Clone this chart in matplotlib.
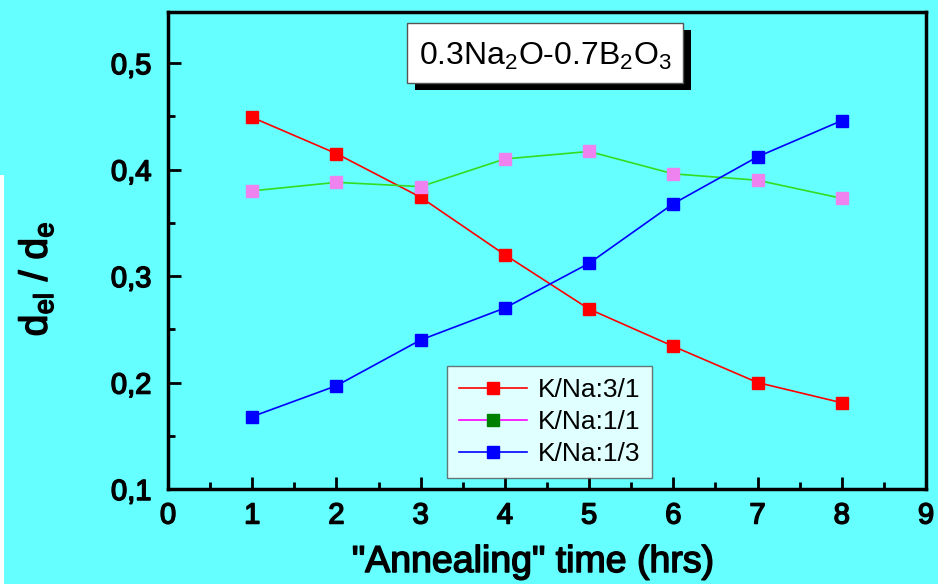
import numpy as np
import matplotlib.pyplot as plt
import matplotlib.patheffects as pe
from matplotlib.lines import Line2D
from matplotlib.patches import Rectangle
from matplotlib.ticker import FuncFormatter, MultipleLocator

plt.rcParams['font.family'] = ['Liberation Sans', 'DejaVu Sans']

# data
hours = [1, 2, 3, 4, 5, 6, 7, 8]
kna_31 = [0.449, 0.415, 0.374, 0.320, 0.269, 0.234, 0.200, 0.181]
kna_11 = [0.380, 0.388, 0.384, 0.410, 0.417, 0.396, 0.390, 0.373]
kna_13 = [0.168, 0.197, 0.240, 0.270, 0.312, 0.368, 0.412, 0.446]
labels = ["K/Na:3/1", "K/Na:1/1", "K/Na:1/3"]

bg = "#66ffff"
heavy = [pe.withStroke(linewidth=1.1, foreground="black")]

fig = plt.figure(figsize=(9.38, 5.84), dpi=100, facecolor=bg)
ax = fig.add_axes([168 / 938, 1 - 489 / 584, (926 - 168) / 938, (489 - 12) / 584])
ax.set_facecolor(bg)

# thin white strip on the left edge
fig.patches.append(Rectangle((0, 0), 4 / 938, 1 - 175 / 584, transform=fig.transFigure,
                             facecolor="white", edgecolor="none", zorder=0))

ms = 8.5
ax.plot(hours, kna_31, "-", color="red", lw=1.2, marker="s", ms=ms,
        mfc="red", mec="red")
ax.plot(hours, kna_11, "-", color="#33dd22", lw=1.2, marker="s", ms=ms,
        mfc="#ee82ee", mec="#ee82ee")
ax.plot(hours, kna_13, "-", color="blue", lw=1.2, marker="s", ms=ms,
        mfc="blue", mec="blue")

ax.set_xlim(0, 9)
ax.set_ylim(0.1, 0.548)
ax.xaxis.set_major_locator(MultipleLocator(1))
ax.xaxis.set_minor_locator(MultipleLocator(0.5))
ax.yaxis.set_major_locator(MultipleLocator(0.1))
ax.yaxis.set_minor_locator(MultipleLocator(0.05))
ax.yaxis.set_major_formatter(FuncFormatter(lambda v, p: f"{v:.1f}".replace(".", ",")))
ax.xaxis.set_major_formatter(FuncFormatter(lambda v, p: f"{v:.0f}"))
ax.tick_params(which="both", direction="in", width=2, top=False, right=False)
ax.tick_params(which="major", length=9, labelsize=21)
ax.tick_params(axis="x", which="major", pad=9)
ax.tick_params(axis="y", which="major", pad=12)
ax.tick_params(which="minor", length=5)
for lab in ax.get_xticklabels() + ax.get_yticklabels():
    lab.set_path_effects(heavy)
for s in ax.spines.values():
    s.set_linewidth(2.5)

fig.text(533 / 938, 1 - 562 / 584, '"Annealing" time (hrs)', fontsize=27,
         ha="center", va="center", path_effects=heavy)
fig.text(36 / 938, 1 - 279 / 584, r"d$_{\mathregular{el}}$ / d$_{\mathregular{e}}$",
         rotation=90, fontsize=28, ha="center", va="center", path_effects=heavy)

# title box with black drop shadow
tx0, ty0, tw, th = 407, 23, 276, 60
fig.patches.append(Rectangle(((tx0 + 8) / 938, 1 - (ty0 + th + 7) / 584), tw / 938, th / 584,
                             transform=fig.transFigure, facecolor="black", edgecolor="none", zorder=3))
fig.patches.append(Rectangle((tx0 / 938, 1 - (ty0 + th) / 584), tw / 938, th / 584,
                             transform=fig.transFigure, facecolor="white", edgecolor="#555555",
                             lw=1, zorder=4))
fig.text((tx0 + tw / 2) / 938, 1 - (ty0 + th / 2 + 3) / 584,
         r"0.3Na$_{\mathregular{2}}$O-0.7B$_{\mathregular{2}}$O$_{\mathregular{3}}$",
         fontsize=23, ha="center", va="center", zorder=5)

handles = [
    Line2D([], [], color="red", lw=1.2, marker="s", ms=ms, mfc="red", mec="red"),
    Line2D([], [], color="magenta", lw=1.2, marker="s", ms=ms, mfc="green", mec="green"),
    Line2D([], [], color="blue", lw=1.2, marker="s", ms=ms, mfc="blue", mec="blue"),
]
leg = ax.legend(handles, labels, loc="lower left", bbox_to_anchor=((447 - 168) / 758, (489 - 478) / 477),
                fontsize=19, frameon=True, fancybox=False, edgecolor="#555555",
                handlelength=2.6, handletextpad=0.4, borderpad=0.45, labelspacing=0.3,
                borderaxespad=0)
leg.get_frame().set_linewidth(1)

fig.savefig("out.png", dpi=100, facecolor=bg)
